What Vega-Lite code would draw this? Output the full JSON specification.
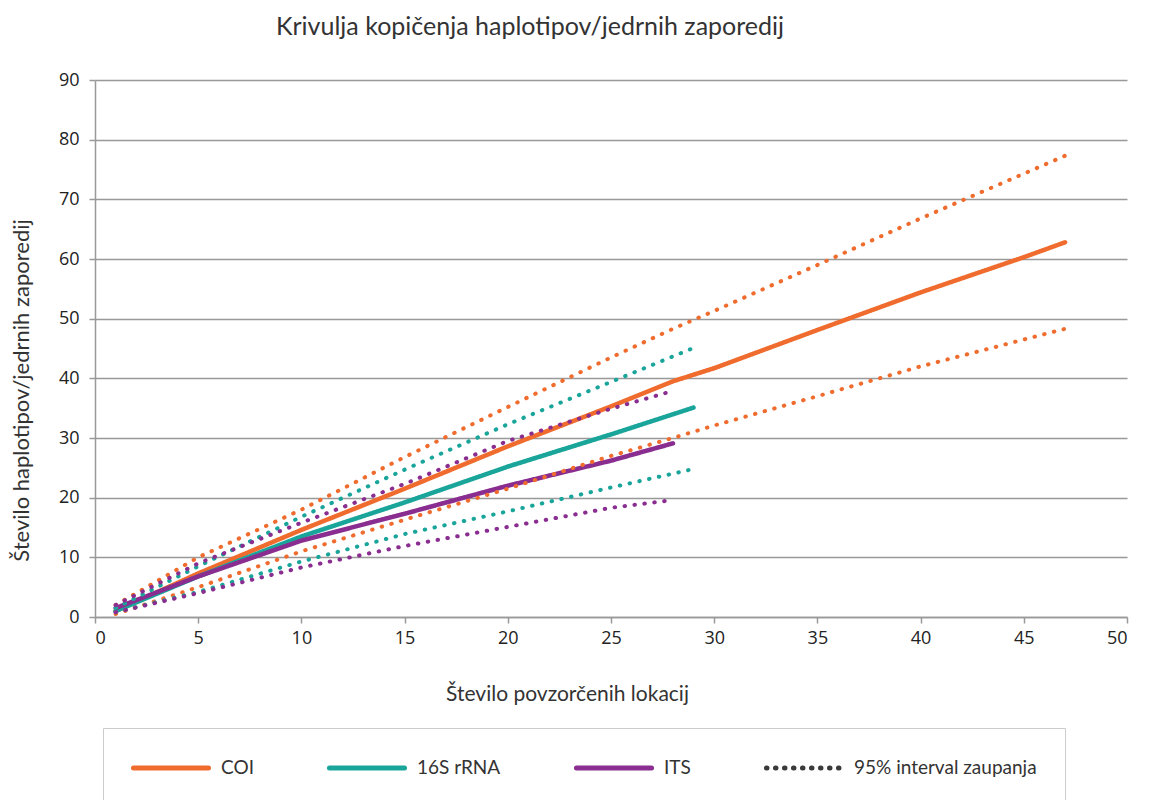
{
  "$schema": "https://vega.github.io/schema/vega-lite/v6.json",
  "autosize": {"type": "none"},
  "padding": {"left": 95, "top": 80, "right": 35, "bottom": 183},
  "width": 1032,
  "height": 537,
  "background": "white",
  "title": {
    "text": "Krivulja kopičenja haplotipov/jedrnih zaporedij",
    "font": "Lato",
    "fontSize": 25,
    "fontWeight": "normal",
    "color": "#333333",
    "anchor": "middle",
    "dx": -81,
    "offset": 31
  },
  "data": {
    "values": [
      {"serija": "COI", "meja": "srednja", "x": 1, "y": 1},
      {"serija": "COI", "meja": "srednja", "x": 5, "y": 7.3},
      {"serija": "COI", "meja": "srednja", "x": 10, "y": 14.6},
      {"serija": "COI", "meja": "srednja", "x": 15, "y": 21.5},
      {"serija": "COI", "meja": "srednja", "x": 20, "y": 28.6},
      {"serija": "COI", "meja": "srednja", "x": 25, "y": 35.3},
      {"serija": "COI", "meja": "srednja", "x": 28, "y": 39.5},
      {"serija": "COI", "meja": "srednja", "x": 30, "y": 41.7},
      {"serija": "COI", "meja": "srednja", "x": 35, "y": 48.1},
      {"serija": "COI", "meja": "srednja", "x": 40, "y": 54.4},
      {"serija": "COI", "meja": "srednja", "x": 45, "y": 60.3},
      {"serija": "COI", "meja": "srednja", "x": 47, "y": 62.8},
      {"serija": "COI", "meja": "zgornja", "x": 1, "y": 2},
      {"serija": "COI", "meja": "zgornja", "x": 5, "y": 10},
      {"serija": "COI", "meja": "zgornja", "x": 10, "y": 18},
      {"serija": "COI", "meja": "zgornja", "x": 15, "y": 26.8},
      {"serija": "COI", "meja": "zgornja", "x": 20, "y": 35.2},
      {"serija": "COI", "meja": "zgornja", "x": 25, "y": 43.5},
      {"serija": "COI", "meja": "zgornja", "x": 28, "y": 48.3},
      {"serija": "COI", "meja": "zgornja", "x": 30, "y": 51.3},
      {"serija": "COI", "meja": "zgornja", "x": 35, "y": 59},
      {"serija": "COI", "meja": "zgornja", "x": 40, "y": 66.8},
      {"serija": "COI", "meja": "zgornja", "x": 45, "y": 74.3},
      {"serija": "COI", "meja": "zgornja", "x": 47, "y": 77.3},
      {"serija": "COI", "meja": "spodnja", "x": 1, "y": 0.5},
      {"serija": "COI", "meja": "spodnja", "x": 5, "y": 5},
      {"serija": "COI", "meja": "spodnja", "x": 10, "y": 11},
      {"serija": "COI", "meja": "spodnja", "x": 15, "y": 16.3},
      {"serija": "COI", "meja": "spodnja", "x": 20, "y": 21.5},
      {"serija": "COI", "meja": "spodnja", "x": 25, "y": 27},
      {"serija": "COI", "meja": "spodnja", "x": 28, "y": 30},
      {"serija": "COI", "meja": "spodnja", "x": 30, "y": 32.1},
      {"serija": "COI", "meja": "spodnja", "x": 35, "y": 37},
      {"serija": "COI", "meja": "spodnja", "x": 40, "y": 42},
      {"serija": "COI", "meja": "spodnja", "x": 45, "y": 46.5},
      {"serija": "COI", "meja": "spodnja", "x": 47, "y": 48.3},
      {"serija": "16S rRNA", "meja": "srednja", "x": 1, "y": 1},
      {"serija": "16S rRNA", "meja": "srednja", "x": 5, "y": 6.8},
      {"serija": "16S rRNA", "meja": "srednja", "x": 10, "y": 13.5},
      {"serija": "16S rRNA", "meja": "srednja", "x": 15, "y": 19.2},
      {"serija": "16S rRNA", "meja": "srednja", "x": 20, "y": 25.2},
      {"serija": "16S rRNA", "meja": "srednja", "x": 25, "y": 30.6},
      {"serija": "16S rRNA", "meja": "srednja", "x": 29, "y": 35.1},
      {"serija": "16S rRNA", "meja": "zgornja", "x": 1, "y": 1.5},
      {"serija": "16S rRNA", "meja": "zgornja", "x": 5, "y": 8.5},
      {"serija": "16S rRNA", "meja": "zgornja", "x": 10, "y": 16.8},
      {"serija": "16S rRNA", "meja": "zgornja", "x": 15, "y": 24.7},
      {"serija": "16S rRNA", "meja": "zgornja", "x": 20, "y": 32.3},
      {"serija": "16S rRNA", "meja": "zgornja", "x": 25, "y": 39.4},
      {"serija": "16S rRNA", "meja": "zgornja", "x": 29, "y": 45.1},
      {"serija": "16S rRNA", "meja": "spodnja", "x": 1, "y": 0.8},
      {"serija": "16S rRNA", "meja": "spodnja", "x": 5, "y": 4.2},
      {"serija": "16S rRNA", "meja": "spodnja", "x": 10, "y": 9.3},
      {"serija": "16S rRNA", "meja": "spodnja", "x": 15, "y": 13.9},
      {"serija": "16S rRNA", "meja": "spodnja", "x": 20, "y": 17.7},
      {"serija": "16S rRNA", "meja": "spodnja", "x": 25, "y": 21.7},
      {"serija": "16S rRNA", "meja": "spodnja", "x": 29, "y": 24.8},
      {"serija": "ITS", "meja": "srednja", "x": 1, "y": 1.5},
      {"serija": "ITS", "meja": "srednja", "x": 5, "y": 6.8},
      {"serija": "ITS", "meja": "srednja", "x": 10, "y": 12.8},
      {"serija": "ITS", "meja": "srednja", "x": 15, "y": 17.3},
      {"serija": "ITS", "meja": "srednja", "x": 20, "y": 22},
      {"serija": "ITS", "meja": "srednja", "x": 25, "y": 26.2},
      {"serija": "ITS", "meja": "srednja", "x": 28, "y": 29.1},
      {"serija": "ITS", "meja": "zgornja", "x": 1, "y": 2},
      {"serija": "ITS", "meja": "zgornja", "x": 5, "y": 9},
      {"serija": "ITS", "meja": "zgornja", "x": 10, "y": 15.8},
      {"serija": "ITS", "meja": "zgornja", "x": 15, "y": 22.3},
      {"serija": "ITS", "meja": "zgornja", "x": 20, "y": 29.5},
      {"serija": "ITS", "meja": "zgornja", "x": 25, "y": 34.9},
      {"serija": "ITS", "meja": "zgornja", "x": 28, "y": 37.9},
      {"serija": "ITS", "meja": "spodnja", "x": 1, "y": 0.8},
      {"serija": "ITS", "meja": "spodnja", "x": 5, "y": 4},
      {"serija": "ITS", "meja": "spodnja", "x": 10, "y": 8.3},
      {"serija": "ITS", "meja": "spodnja", "x": 15, "y": 11.9},
      {"serija": "ITS", "meja": "spodnja", "x": 20, "y": 15.1},
      {"serija": "ITS", "meja": "spodnja", "x": 25, "y": 18.3},
      {"serija": "ITS", "meja": "spodnja", "x": 28, "y": 19.6}
    ]
  },
  "encoding": {
    "x": {
      "field": "x",
      "type": "quantitative",
      "scale": {"domain": [0, 50], "nice": false, "zero": false},
      "axis": {
        "title": "Število povzorčenih lokacij",
        "values": [0, 5, 10, 15, 20, 25, 30, 35, 40, 45, 50],
        "grid": false,
        "domainColor": "#999999",
        "domainWidth": 1.5,
        "tickColor": "#999999",
        "tickWidth": 1.5,
        "tickSize": 6,
        "labelFont": "Open Sans",
        "labelFontSize": 18,
        "labelColor": "#222222",
        "labelPadding": 6,
        "titleFont": "Lato",
        "titleFontSize": 21,
        "titleFontWeight": "normal",
        "titleColor": "#333333",
        "titleX": 472,
        "titlePadding": 36
      }
    },
    "y": {
      "field": "y",
      "type": "quantitative",
      "scale": {"domain": [0, 90], "nice": false},
      "axis": {
        "title": "Število haplotipov/jedrnih  zaporedij",
        "values": [0, 10, 20, 30, 40, 50, 60, 70, 80, 90],
        "grid": true,
        "gridColor": "#999999",
        "gridWidth": 1.5,
        "domainColor": "#999999",
        "domainWidth": 1.5,
        "tickColor": "#999999",
        "tickWidth": 1.5,
        "tickSize": 6,
        "labelFont": "Open Sans",
        "labelFontSize": 18,
        "labelColor": "#222222",
        "labelPadding": 10,
        "titleFont": "Lato",
        "titleFontSize": 22,
        "titleFontWeight": "normal",
        "titleColor": "#333333",
        "titleY": 310,
        "titlePadding": 25
      }
    }
  },
  "layer": [
    {
      "transform": [{"filter": "datum.meja === 'srednja'"}],
      "mark": {"type": "line", "strokeWidth": 4.5, "strokeCap": "round", "strokeJoin": "round"},
      "encoding": {
        "color": {
          "field": "serija",
          "type": "nominal",
          "scale": {
            "domain": ["COI", "16S rRNA", "ITS", "95% interval zaupanja"],
            "range": ["#ef6c2e", "#1aa59b", "#8a2d90", "#3a3a3a"]
          },
          "legend": {
            "title": null,
            "orient": "none",
            "legendX": 8,
            "legendY": 648,
            "direction": "horizontal",
            "columns": 4,
            "columnPadding": 65,
            "padding": 28,
            "strokeColor": "#cccccc",
            "symbolType": "M-4,0H4",
            "symbolSize": 352,
            "symbolStrokeWidth": 5,
            "symbolOffset": 28,
            "labelFont": "Lato",
            "labelFontSize": 19,
            "labelColor": "#333333",
            "labelOffset": 38,
            "labelLimit": 400,
            "encode": {"symbols": {"update": {"strokeCap": {"value": "round"}}}}
          }
        },
        "strokeDash": {
          "field": "serija",
          "type": "nominal",
          "scale": {
            "domain": ["COI", "16S rRNA", "ITS", "95% interval zaupanja"],
            "range": [[1, 0], [1, 0], [1, 0], [0.5, 8.5]]
          },
          "legend": {
            "title": null,
            "orient": "none",
            "legendX": 8,
            "legendY": 648,
            "direction": "horizontal",
            "columns": 4,
            "columnPadding": 65,
            "padding": 28,
            "strokeColor": "#cccccc",
            "symbolType": "M-4,0H4",
            "symbolSize": 352,
            "symbolStrokeWidth": 5,
            "symbolOffset": 28,
            "labelFont": "Lato",
            "labelFontSize": 19,
            "labelColor": "#333333",
            "labelOffset": 38,
            "labelLimit": 400,
            "encode": {"symbols": {"update": {"strokeCap": {"value": "round"}}}}
          }
        }
      }
    },
    {
      "transform": [{"filter": "datum.meja !== 'srednja'"}],
      "mark": {"type": "line", "strokeWidth": 4, "strokeCap": "round", "strokeDash": [0.5, 9.5]},
      "encoding": {
        "stroke": {
          "field": "serija",
          "type": "nominal",
          "scale": {
            "domain": ["COI", "16S rRNA", "ITS"],
            "range": ["#ef6c2e", "#1aa59b", "#8a2d90"]
          },
          "legend": null
        },
        "detail": {"field": "meja", "type": "nominal"}
      }
    }
  ],
  "config": {
    "view": {"stroke": null}
  }
}
